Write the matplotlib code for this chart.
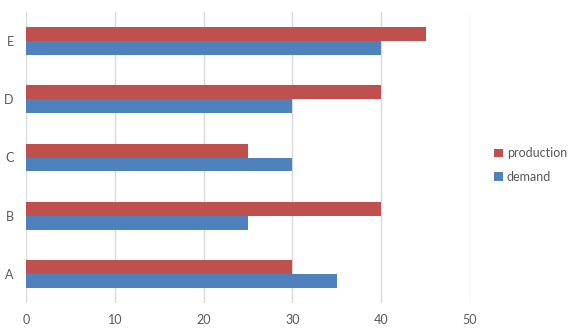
import matplotlib.pyplot as plt
import numpy as np

categories = ["A", "B", "C", "D", "E"]
demand = [35, 25, 30, 30, 40]
production = [30, 40, 25, 40, 45]

plt.rcParams["font.family"] = ["Lato", "DejaVu Sans"]

fig = plt.figure(figsize=(5.74, 3.29), dpi=100)
ax = fig.add_axes([26 / 574, 26 / 329, 444 / 574, 291 / 329])

y = np.arange(len(categories))
h = 0.24
ax.barh(y - h / 2, demand, height=h, color="#4F81BD", label="demand", zorder=2)
ax.barh(y + h / 2, production, height=h, color="#C0504D", label="production", zorder=2)

ax.set_xlim(0, 50)
ax.set_ylim(-0.5, 4.5)
ax.set_xticks(range(0, 51, 10))
ax.set_yticks(y)
ax.set_yticklabels(categories)
ax.grid(axis="x", color="#D9D9D9", linewidth=1, zorder=0)
ax.tick_params(length=0, labelsize=9, colors="#595959")
ax.tick_params(axis="x", pad=8)
ax.tick_params(axis="y", pad=9)
for s in ax.spines.values():
    s.set_visible(False)

handles, labels = ax.get_legend_handles_labels()
fig.legend(handles[::-1], labels[::-1], loc="center left",
           bbox_to_anchor=(483 / 574, 1 - 165 / 329), frameon=False,
           fontsize=9, handlelength=0.7, handleheight=0.7, handletextpad=0.3,
           labelspacing=0.9, labelcolor="#595959")

fig.savefig("out.png", dpi=100, facecolor="white")
